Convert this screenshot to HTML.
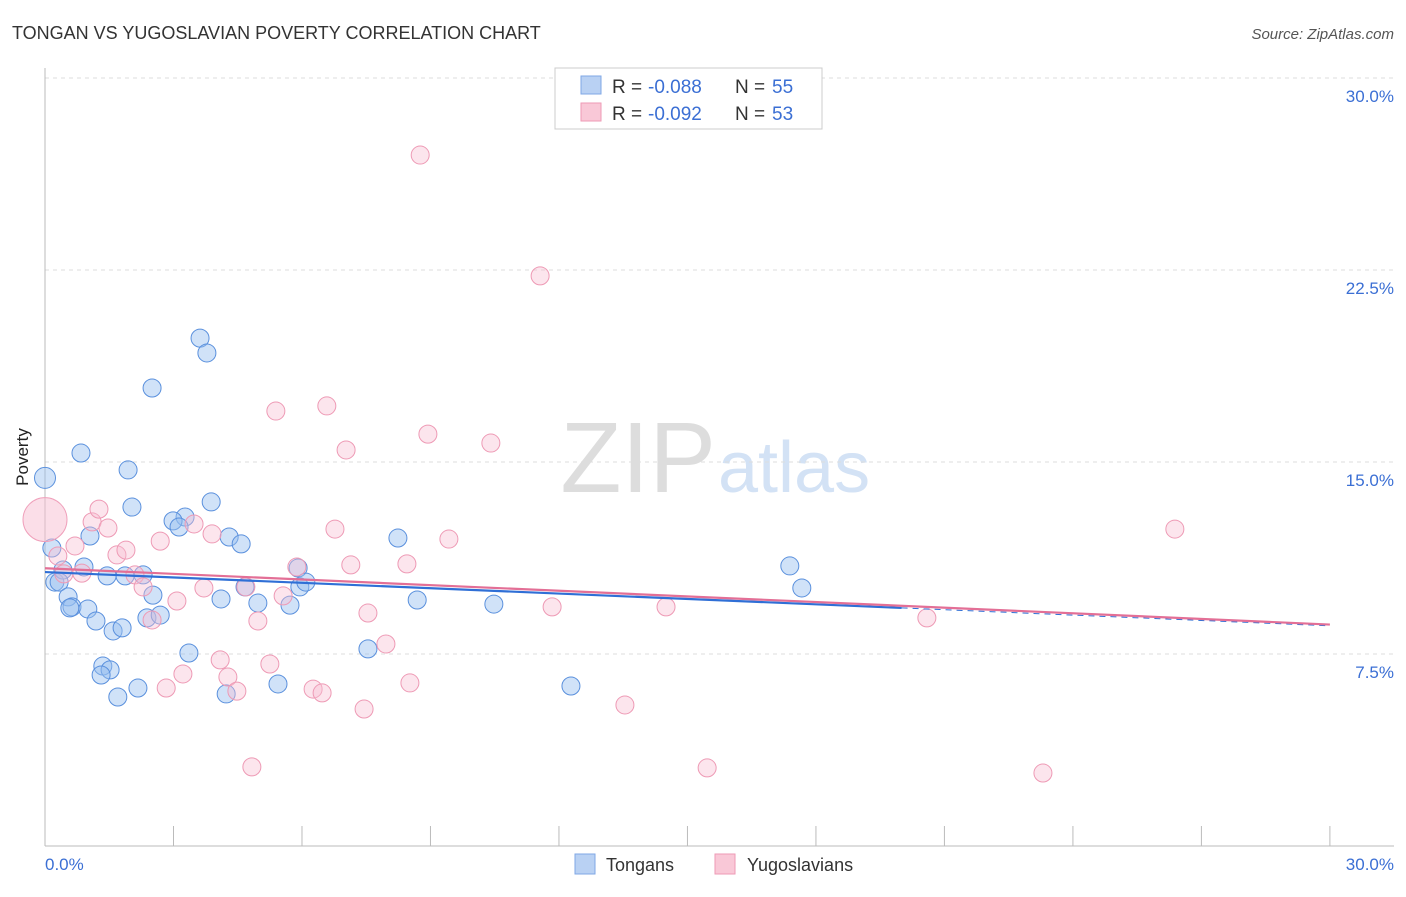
<!DOCTYPE html>
<html><head><meta charset="utf-8"><style>
body{margin:0;background:#fff;font-family:"Liberation Sans",sans-serif}
svg text{font-family:"Liberation Sans",sans-serif}
</style></head><body>
<svg id="c" width="1406" height="892">
<text x="12" y="39" font-size="18" fill="#333">TONGAN VS YUGOSLAVIAN POVERTY CORRELATION CHART</text>
<text x="1394" y="39" font-size="15" fill="#555" text-anchor="end" font-style="italic">Source: ZipAtlas.com</text>
<text x="716" y="492" font-size="100" fill="#ddd" text-anchor="end" font-family="Liberation Serif">ZIP</text>
<text x="718" y="492" font-size="72" fill="#d3e2f5">atlas</text>
<g id="grid"></g>
<line x1="45" y1="68" x2="45" y2="846" stroke="#bbb"/>
<line x1="45" y1="846" x2="1394" y2="846" stroke="#bbb"/>
<text x="28" y="457" font-size="17" fill="#222" transform="rotate(-90 28 457)" text-anchor="middle">Poverty</text>
<text x="45" y="870" font-size="17" fill="#3b6fd4">0.0%</text>
<text x="1394" y="870" font-size="17" fill="#3b6fd4" text-anchor="end">30.0%</text>
<g id="pts"></g>
<g id="lines"></g>
<g>
<rect x="555" y="68" width="267" height="61" fill="#fff" stroke="#ccc"/>
<rect x="581" y="76" width="20" height="18" fill="#b9d1f3" stroke="#7fa7e6"/>
<rect x="581" y="103" width="20" height="18" fill="#f9c8d7" stroke="#ee9ab5"/>
<text x="612" y="93" font-size="19" fill="#333">R =</text>
<text x="648" y="93" font-size="19" fill="#3b6fd4">-0.088</text>
<text x="735" y="93" font-size="19" fill="#333">N =</text>
<text x="772" y="93" font-size="19" fill="#3b6fd4">55</text>
<text x="612" y="120" font-size="19" fill="#333">R =</text>
<text x="648" y="120" font-size="19" fill="#3b6fd4">-0.092</text>
<text x="735" y="120" font-size="19" fill="#333">N =</text>
<text x="772" y="120" font-size="19" fill="#3b6fd4">53</text>
</g>
<g>
<rect x="575" y="854" width="20" height="20" fill="#b9d1f3" stroke="#7fa7e6"/>
<text x="606" y="871" font-size="18" fill="#333">Tongans</text>
<rect x="715" y="854" width="20" height="20" fill="#f9c8d7" stroke="#ee9ab5"/>
<text x="747" y="871" font-size="18" fill="#333">Yugoslavians</text>
</g>
</svg>
<script>
const yTicks=[7.5,15,22.5,30];
const xTicks=[0,3,6,9,12,15,18,21,24,27,30];
const bluePx=[[45,478],[81,453],[128,470],[200,338],[207,353],[152,388],[132,507],[211,502],[185,517],[173,521],[179,527],[90,536],[229,537],[241,544],[52,548],[55,582],[63,570],[84,567],[59,582],[107,576],[125,576],[143,575],[68,597],[72,607],[70,608],[88,609],[96,621],[113,631],[122,628],[153,595],[147,618],[160,615],[189,653],[103,666],[110,670],[101,675],[118,697],[138,688],[226,694],[221,599],[245,587],[258,603],[290,605],[298,568],[300,587],[306,582],[278,684],[368,649],[398,538],[417,600],[494,604],[571,686],[790,566],[802,588]];
const pinkPx=[[420,155],[540,276],[276,411],[327,406],[346,450],[428,434],[491,443],[1175,529],[58,556],[75,546],[92,522],[99,509],[108,528],[117,555],[126,550],[160,541],[194,524],[212,534],[335,529],[449,539],[64,574],[82,573],[135,575],[143,587],[152,620],[177,601],[204,588],[246,587],[283,596],[297,567],[351,565],[407,564],[368,613],[258,621],[552,607],[666,607],[927,618],[386,644],[220,660],[270,664],[183,674],[228,677],[166,688],[237,691],[313,689],[322,693],[410,683],[364,709],[625,705],[252,767],[707,768],[1043,773]];
const blueX=bluePx.map(p=>+((p[0]-45)/42.83).toFixed(2)), blueY=bluePx.map(p=>+((846-p[1])/25.6).toFixed(2));
const pinkX=pinkPx.map(p=>+((p[0]-45)/42.83).toFixed(2)), pinkY=pinkPx.map(p=>+((846-p[1])/25.6).toFixed(2));
const blueTrend=[10.7,9.3,8.6], pinkTrend=[10.85,8.65];
const X=v=>45+v*42.83, Y=v=>846-v*25.6;
const NS="http://www.w3.org/2000/svg";
function mk(t,a,p){const e=document.createElementNS(NS,t);for(const k in a)e.setAttribute(k,a[k]);document.getElementById(p).appendChild(e);return e;}
yTicks.forEach(v=>{
 const l=mk('line',{x1:45,x2:1394,y1:Y(v),y2:Y(v),stroke:'#ddd','stroke-dasharray':'4,4'},'grid');
 
 
 const t=mk('text',{x:1394,y:Y(v)+24,'font-size':17,fill:'#3b6fd4','text-anchor':'end'},'grid');t.textContent=v.toFixed(1)+'%';
 
 
});
xTicks.forEach(v=>{
 const l=mk('line',{x1:X(v),x2:X(v),y1:826,y2:846,stroke:'#bbb'},'grid');
 
 
});
blueX.forEach((x,i)=>{
 const c=mk('circle',{cx:X(x),cy:Y(blueY[i]),r:i==0?10.5:9,fill:'rgba(150,190,240,0.45)',stroke:'#5a90dd','stroke-width':1},'pts');
 
 
});
{const c=mk('circle',{cx:X(0),cy:Y(12.75),r:22,fill:'rgba(248,190,210,0.5)',stroke:'#f0a0bb'},'pts');
 
 }
pinkX.forEach((x,i)=>{
 const c=mk('circle',{cx:X(x),cy:Y(pinkY[i]),r:9,fill:'rgba(248,190,210,0.4)',stroke:'#ee9ab5','stroke-width':1},'pts');
 
 
});
let l=mk('line',{x1:X(0),y1:Y(blueTrend[0]),x2:X(20),y2:Y(blueTrend[1]),stroke:'#2f6fd6','stroke-width':2.2},'lines');


l=mk('line',{x1:X(20),y1:Y(blueTrend[1]),x2:X(30),y2:Y(blueTrend[2]),stroke:'#2f6fd6','stroke-width':1,'stroke-dasharray':'6,5'},'lines');


l=mk('line',{x1:X(0),y1:Y(pinkTrend[0]),x2:X(30),y2:Y(pinkTrend[1]),stroke:'#e36f96','stroke-width':2.2},'lines');


</script>
</body></html>
